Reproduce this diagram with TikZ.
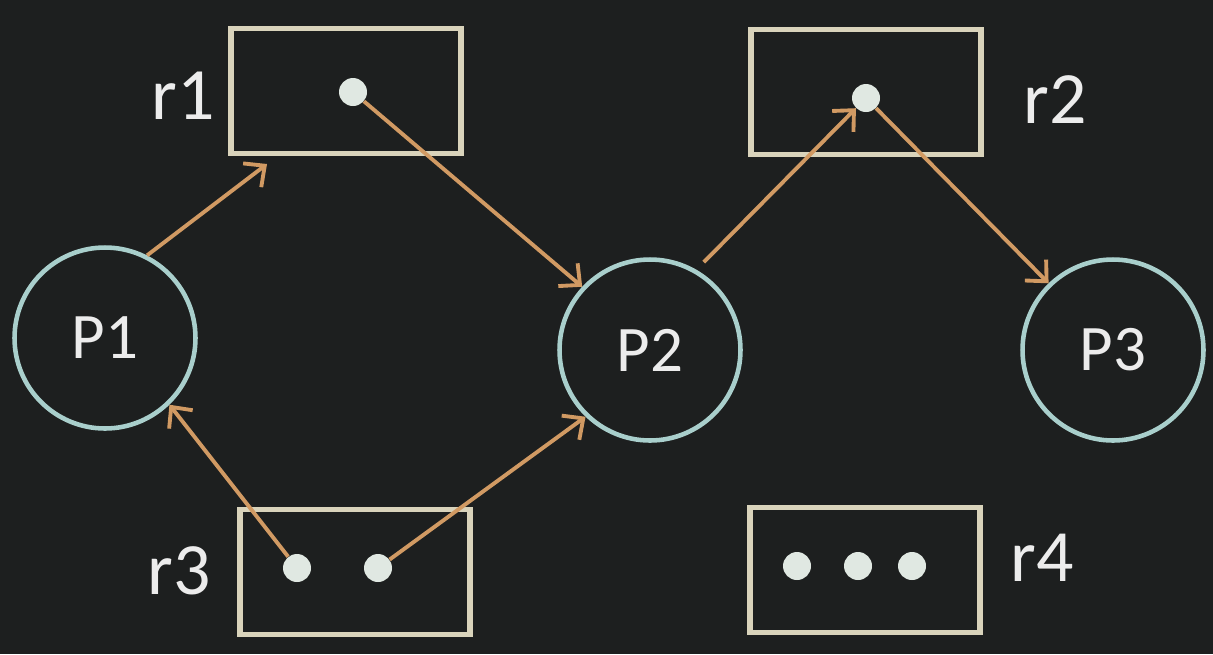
\documentclass[tikz,border=0pt]{standalone}
\usepackage{fontspec}
\setmainfont{Carlito}
\usetikzlibrary{arrows.meta}
\definecolor{boardbg}{HTML}{1D1F1F}
\definecolor{proccol}{HTML}{A9CFCC}
\definecolor{rescol}{HTML}{D9D3BB}
\definecolor{edgecol}{HTML}{D19A63}
\definecolor{unitcol}{HTML}{E0E8E2}
\definecolor{labelcol}{HTML}{ECECEC}

\begin{document}
\begin{tikzpicture}[x=0.02cm, y=-0.02cm,
        process/.style={circle, draw=proccol, line width=2.6pt, minimum size=3.62cm,
            text=labelcol, font=\fontsize{37}{40}\selectfont},
        resource/.style={rectangle, draw=rescol, line width=3.2pt,
            minimum width=4.6cm, minimum height=2.5cm},
        unit/.style={circle, fill=unitcol, minimum size=0.56cm, inner sep=0pt},
        reslabel/.style={text=labelcol, inner sep=0pt, font=\fontsize{42}{46}\selectfont},
        flow/.style={draw=edgecol, line width=2.2pt,
            -{Straight Barb[length=9pt, width=17pt, line width=2.2pt]}}]
            \useasboundingbox (0,0) rectangle (1213,654);
            \fill[boardbg] (0,0) rectangle (1213,654);

            \node[process] (P1) at (105,338) {P1};
            \node[process] (P2) at (650,350) {P2};
            \node[process] (P3) at (1113,350) {P3};

            \node[resource] (r1) at (346,91) {};
            \node[resource] (r2) at (866,92) {};
            \node[resource] (r3) at (355,572) {};
            \node[resource] (r4) at (865,570) {};

            \node[reslabel] (r1label) at (183,96) {r1};
            \node[reslabel] (r2label) at (1055,100) {r2};
            \node[reslabel] (r3label) at (179,571) {r3};
            \node[reslabel] (r4label) at (1042,558) {r4};

            \node[unit] (r1u1) at (353,92) {};
            \node[unit] (r2u1) at (866,98) {};
            \node[unit] (r3u1) at (297,568) {};
            \node[unit] (r3u2) at (378,568) {};
            \node[unit] (r4u1) at (797,566) {};
            \node[unit] (r4u2) at (858,566) {};
            \node[unit] (r4u3) at (912,566) {};

            \coordinate (r1in) at (267,164);

            \draw[flow] (P1.63) -- (r1in);
            \draw[flow] (r1u1) -- (P2.137);
            \draw[flow, shorten <=6pt] (P2.60) -- (r2u1);
            \draw[flow] (r2u1) -- (P3.134);
            \draw[flow] (r3u1) -- (P1.-46);
            \draw[flow] (r3u2) -- (P2.-134);
        \end{tikzpicture}
\end{document}
